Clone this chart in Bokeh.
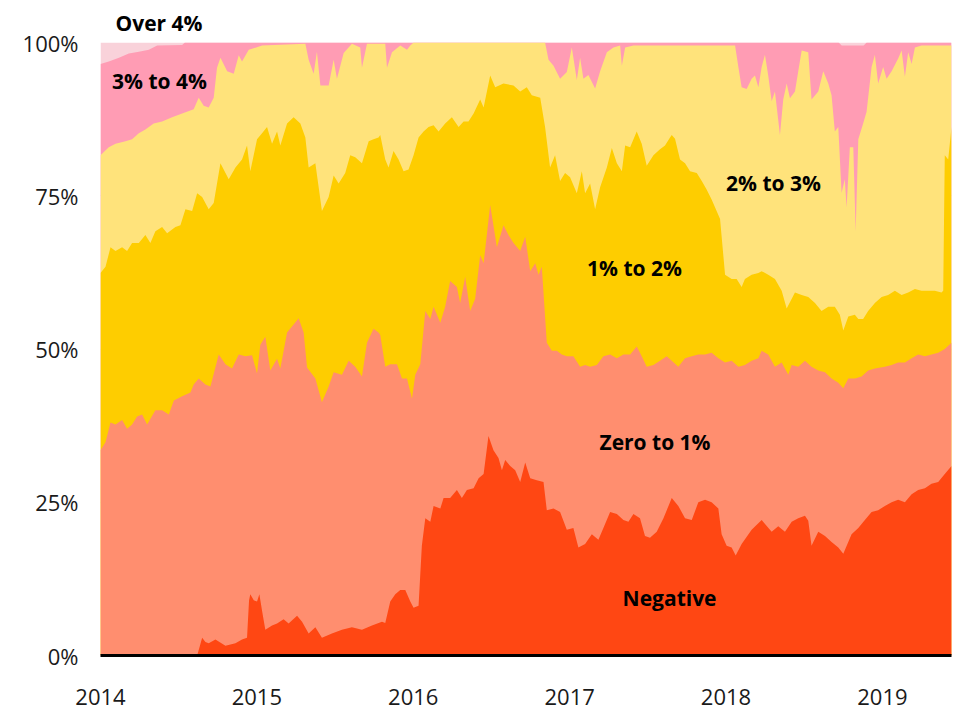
from bokeh.plotting import figure
from bokeh.models import Range1d, FixedTicker, Label
from bokeh.embed import file_html
from bokeh.resources import INLINE

# ---------------- data (years measured from the start of 2014, % of total) -------------
START_YEAR = 2014.0

series_names = ["Negative", "Zero to 1%", "1% to 2%", "2% to 3%", "3% to 4%", "Over 4%"]
year_ticks = [2014, 2015, 2016, 2017, 2018, 2019]
pct_ticks = [0, 25, 50, 75, 100]

# cumulative top of "Negative"
neg_t = [
    0.000, 0.618, 0.635, 0.650, 0.671, 0.692, 0.735, 0.799, 0.863, 0.905,
    0.937, 0.950, 0.958, 0.980, 1.001, 1.016, 1.035, 1.054, 1.097, 1.129,
    1.171, 1.203, 1.257, 1.289, 1.331, 1.374, 1.416, 1.480, 1.544, 1.608,
    1.672, 1.736, 1.800, 1.821, 1.853, 1.885, 1.917, 1.949, 1.981, 2.002,
    2.034, 2.055, 2.077, 2.109, 2.130, 2.173, 2.194, 2.236, 2.279, 2.311,
    2.343, 2.386, 2.418, 2.450, 2.481, 2.513, 2.545, 2.567, 2.588, 2.620,
    2.652, 2.684, 2.716, 2.748, 2.790, 2.833, 2.854, 2.897, 2.939, 2.982,
    3.024, 3.056, 3.099, 3.142, 3.184, 3.216, 3.259, 3.302, 3.344, 3.376,
    3.408, 3.450, 3.482, 3.514, 3.557, 3.600, 3.642, 3.653, 3.695, 3.738,
    3.781, 3.823, 3.866, 3.908, 3.951, 3.972, 4.004, 4.036, 4.062, 4.100,
    4.164, 4.228, 4.292, 4.334, 4.377, 4.420, 4.462, 4.505, 4.526, 4.547,
    4.590, 4.633, 4.675, 4.718, 4.750, 4.803, 4.846, 4.888, 4.931, 4.973,
    5.016, 5.059, 5.101, 5.144, 5.187, 5.229, 5.272, 5.314, 5.357, 5.399,
    5.442,
]
neg_pct = [
    0.0, 0.0, 1.5, 2.9, 2.2, 2.0, 2.6, 1.6, 2.0, 2.6,
    2.9, 9.0, 10.0, 9.0, 8.8, 10.0, 7.0, 4.2, 4.9, 5.2,
    5.9, 5.2, 6.5, 5.5, 3.6, 4.6, 2.9, 3.6, 4.2, 4.6,
    4.2, 4.9, 5.5, 5.3, 8.8, 10.0, 10.7, 10.7, 8.8, 7.8,
    8.1, 17.9, 22.4, 21.8, 24.4, 24.0, 25.7, 25.7, 27.0, 25.7,
    27.0, 27.3, 28.9, 29.6, 35.8, 33.5, 32.2, 30.2, 31.9, 30.9,
    30.2, 28.3, 31.5, 28.9, 28.6, 28.3, 23.7, 24.0, 23.4, 20.5,
    20.8, 17.6, 18.2, 19.8, 18.9, 20.8, 23.4, 23.1, 22.1, 21.8,
    23.1, 22.4, 19.5, 19.2, 20.2, 22.4, 25.0, 25.7, 24.4, 22.4,
    22.1, 25.0, 25.4, 25.0, 24.0, 19.8, 17.9, 17.6, 16.3, 18.2,
    20.5, 22.1, 20.2, 21.1, 20.2, 21.8, 22.4, 22.8, 22.0, 17.9,
    20.2, 19.5, 18.5, 17.6, 16.6, 19.8, 20.8, 22.1, 23.4, 23.7,
    24.4, 25.0, 25.4, 25.0, 26.3, 27.0, 27.3, 28.0, 28.3, 29.6,
    30.9,
]

# cumulative top of "Zero to 1%"
zero1_t = [
    0.000, 0.032, 0.064, 0.096, 0.138, 0.170, 0.202, 0.234, 0.266, 0.298,
    0.351, 0.394, 0.437, 0.469, 0.522, 0.575, 0.596, 0.628, 0.671, 0.703,
    0.756, 0.799, 0.841, 0.884, 0.927, 0.969, 1.001, 1.022, 1.054, 1.086,
    1.129, 1.150, 1.193, 1.235, 1.267, 1.299, 1.321, 1.374, 1.416, 1.459,
    1.491, 1.544, 1.587, 1.629, 1.672, 1.704, 1.746, 1.778, 1.789, 1.821,
    1.853, 1.896, 1.928, 1.960, 1.992, 2.013, 2.045, 2.077, 2.109, 2.130,
    2.173, 2.204, 2.236, 2.279, 2.300, 2.332, 2.364, 2.396, 2.428, 2.450,
    2.492, 2.535, 2.577, 2.609, 2.641, 2.684, 2.716, 2.748, 2.780, 2.801,
    2.822, 2.854, 2.886, 2.918, 2.950, 2.982, 3.024, 3.067, 3.099, 3.131,
    3.174, 3.216, 3.259, 3.302, 3.344, 3.387, 3.429, 3.461, 3.493, 3.536,
    3.578, 3.621, 3.653, 3.695, 3.738, 3.781, 3.823, 3.866, 3.908, 3.951,
    3.994, 4.036, 4.079, 4.121, 4.164, 4.207, 4.228, 4.270, 4.313, 4.356,
    4.398, 4.420, 4.462, 4.505, 4.547, 4.590, 4.633, 4.675, 4.718, 4.750,
    4.782, 4.824, 4.867, 4.909, 4.952, 5.016, 5.059, 5.101, 5.144, 5.187,
    5.229, 5.272, 5.314, 5.357, 5.399, 5.442,
]
zero1_pct = [
    33.5, 34.8, 38.0, 37.7, 38.4, 37.0, 37.7, 39.0, 39.3, 37.7,
    40.0, 40.0, 39.3, 41.6, 42.3, 42.9, 44.2, 45.2, 44.2, 43.9,
    49.1, 47.5, 46.8, 49.1, 48.8, 49.0, 46.0, 50.7, 52.0, 46.5,
    48.4, 46.8, 52.7, 54.0, 55.0, 52.7, 47.0, 45.2, 41.3, 43.9,
    46.2, 45.8, 48.1, 47.1, 45.5, 51.0, 53.3, 52.7, 52.3, 47.1,
    47.5, 47.5, 45.2, 45.2, 41.9, 45.8, 47.5, 56.2, 54.9, 56.9,
    54.3, 56.9, 61.1, 60.1, 57.5, 61.8, 56.2, 58.2, 65.3, 64.0,
    73.5, 66.6, 70.2, 68.6, 67.3, 66.0, 68.3, 62.7, 64.0, 62.1,
    63.4, 51.0, 49.7, 49.7, 49.1, 48.8, 48.8, 47.1, 47.4, 47.1,
    47.4, 48.8, 49.1, 48.5, 49.1, 49.1, 50.4, 48.8, 47.1, 47.4,
    48.1, 48.8, 48.1, 47.1, 48.5, 48.8, 49.1, 49.1, 49.4, 48.5,
    47.8, 48.1, 47.1, 47.4, 48.1, 48.5, 49.7, 49.1, 47.1, 47.8,
    45.8, 47.4, 47.1, 48.1, 47.1, 46.5, 46.2, 45.2, 44.5, 43.6,
    45.2, 45.2, 45.5, 46.5, 46.8, 47.1, 47.4, 47.8, 47.8, 48.5,
    49.1, 48.8, 49.1, 49.4, 50.0, 51.0,
]

# cumulative top of "1% to 2%"
one2_t = [
    0.000, 0.032, 0.064, 0.096, 0.138, 0.170, 0.202, 0.245, 0.287, 0.319,
    0.351, 0.394, 0.426, 0.479, 0.511, 0.543, 0.586, 0.618, 0.650, 0.692,
    0.724, 0.767, 0.820, 0.863, 0.905, 0.937, 0.958, 1.001, 1.033, 1.065,
    1.097, 1.129, 1.150, 1.193, 1.235, 1.278, 1.310, 1.331, 1.374, 1.416,
    1.459, 1.491, 1.523, 1.565, 1.597, 1.629, 1.672, 1.715, 1.746, 1.778,
    1.789, 1.821, 1.842, 1.874, 1.906, 1.938, 1.970, 2.002, 2.034, 2.066,
    2.098, 2.130, 2.162, 2.204, 2.247, 2.290, 2.322, 2.353, 2.386, 2.428,
    2.450, 2.492, 2.524, 2.577, 2.641, 2.684, 2.726, 2.758, 2.812, 2.843,
    2.875, 2.907, 2.939, 2.971, 3.003, 3.046, 3.078, 3.099, 3.131, 3.163,
    3.195, 3.238, 3.270, 3.302, 3.334, 3.355, 3.387, 3.429, 3.461, 3.493,
    3.536, 3.578, 3.610, 3.642, 3.653, 3.674, 3.706, 3.738, 3.770, 3.813,
    3.845, 3.876, 3.908, 3.940, 3.962, 3.994, 4.036, 4.068, 4.100, 4.121,
    4.164, 4.207, 4.228, 4.270, 4.313, 4.356, 4.388, 4.441, 4.484, 4.526,
    4.569, 4.611, 4.654, 4.696, 4.728, 4.750, 4.782, 4.824, 4.846, 4.877,
    4.909, 4.952, 4.995, 5.037, 5.080, 5.123, 5.165, 5.208, 5.250, 5.293,
    5.335, 5.378, 5.389, 5.399, 5.421, 5.442,
]
one2_pct = [
    62.4, 63.4, 66.6, 66.0, 66.6, 66.0, 67.3, 67.3, 68.6, 67.3,
    69.2, 69.9, 68.9, 69.9, 70.2, 72.8, 72.5, 75.4, 74.8, 72.8,
    73.8, 80.3, 77.7, 79.6, 80.9, 83.2, 79.0, 84.2, 85.2, 86.2,
    83.5, 85.5, 83.2, 86.8, 87.8, 86.8, 84.5, 79.6, 80.3, 72.5,
    74.8, 78.3, 77.0, 78.7, 81.6, 81.3, 80.3, 83.9, 84.2, 84.5,
    84.9, 80.9, 79.6, 82.3, 80.9, 79.0, 79.3, 81.6, 84.5, 85.5,
    86.2, 86.5, 85.5, 86.8, 87.8, 86.2, 87.1, 87.1, 88.4, 90.7,
    89.4, 94.6, 92.7, 93.3, 93.0, 92.0, 92.7, 91.4, 91.0, 86.2,
    79.6, 81.6, 77.4, 78.7, 78.0, 75.4, 79.0, 75.4, 77.0, 72.8,
    76.4, 79.6, 82.8, 80.3, 79.0, 83.2, 82.9, 85.5, 83.5, 79.9,
    81.6, 82.6, 83.2, 84.5, 84.9, 84.3, 80.9, 80.3, 79.0, 78.7,
    77.4, 76.0, 74.4, 72.5, 71.2, 62.1, 61.4, 61.4, 60.1, 61.4,
    62.1, 62.4, 62.7, 62.1, 61.4, 59.5, 56.6, 59.2, 58.8, 58.5,
    57.5, 56.2, 56.9, 56.9, 55.6, 53.0, 55.3, 55.6, 54.9, 54.9,
    56.2, 57.5, 58.5, 58.8, 59.5, 58.8, 59.2, 59.8, 59.5, 59.5,
    59.5, 59.2, 59.5, 81.6, 80.9, 86.2,
]

# cumulative top of "2% to 3%"
two3_t = [
    0.000, 0.053, 0.096, 0.160, 0.202, 0.245, 0.287, 0.340, 0.394, 0.458,
    0.522, 0.596, 0.628, 0.660, 0.692, 0.724, 0.745, 0.767, 0.810, 0.852,
    0.884, 0.905, 0.948, 1.033, 1.310, 1.331, 1.363, 1.384, 1.406, 1.459,
    1.491, 1.512, 1.555, 1.608, 1.661, 1.672, 1.704, 1.821, 1.832, 1.864,
    1.917, 1.960, 1.981, 2.002, 2.843, 2.865, 2.897, 2.939, 2.982, 3.014,
    3.046, 3.067, 3.088, 3.120, 3.163, 3.195, 3.238, 3.280, 3.323, 3.334,
    3.355, 3.408, 4.058, 4.079, 4.100, 4.132, 4.164, 4.185, 4.207, 4.228,
    4.249, 4.270, 4.292, 4.313, 4.345, 4.366, 4.388, 4.409, 4.441, 4.462,
    4.484, 4.526, 4.547, 4.590, 4.622, 4.654, 4.675, 4.696, 4.718, 4.739,
    4.760, 4.771, 4.792, 4.814, 4.829, 4.846, 4.877, 4.899, 4.931, 4.952,
    4.973, 5.005, 5.027, 5.059, 5.101, 5.123, 5.144, 5.165, 5.187, 5.208,
    5.250, 5.442,
]
two3_pct = [
    81.6, 82.9, 83.5, 83.9, 84.2, 85.2, 85.8, 86.8, 87.1, 87.8,
    88.4, 89.1, 91.0, 89.7, 89.4, 91.0, 95.9, 97.5, 95.3, 94.9,
    97.9, 96.9, 98.8, 99.5, 99.8, 97.2, 94.9, 98.5, 93.0, 93.0,
    97.2, 94.1, 98.3, 99.8, 99.2, 95.9, 99.8, 99.8, 95.9, 98.4,
    99.5, 98.8, 99.5, 100.0, 100.0, 97.2, 96.2, 94.1, 95.2, 99.2,
    93.9, 97.5, 94.1, 94.7, 92.5, 95.3, 98.4, 99.2, 99.5, 96.2,
    99.2, 99.5, 99.5, 96.0, 92.7, 92.4, 94.1, 94.6, 92.7, 96.0,
    98.0, 94.6, 90.4, 92.0, 84.9, 90.7, 93.3, 90.9, 92.0, 95.3,
    98.7, 98.4, 90.7, 92.0, 95.3, 93.3, 91.4, 85.5, 86.2, 75.5,
    77.7, 73.1, 82.9, 82.9, 69.2, 84.2, 86.8, 88.7, 96.0, 98.0,
    93.3, 96.0, 94.1, 95.3, 97.4, 98.7, 94.4, 98.4, 96.5, 99.2,
    99.5, 99.5,
]

# cumulative top of "3% to 4%"
three4_t = [0.000, 0.053, 0.118, 0.181, 0.245, 0.309, 0.362, 0.522, 0.540, 4.720,
            4.740, 4.880, 4.900, 5.442]
three4_pct = [96.5, 96.9, 97.5, 98.2, 98.5, 98.8, 99.5, 99.6, 100.0, 100.0,
              99.5, 99.5, 100.0, 100.0]

# cumulative top of "Over 4%" (the whole)
over4_t = [0.000, 5.442]
over4_pct = [100.0, 100.0]

colors = {
    "Negative": "#FF4713",
    "Zero to 1%": "#FF8E6F",
    "1% to 2%": "#FECD00",
    "2% to 3%": "#FFE37B",
    "3% to 4%": "#FF9CB4",
    "Over 4%": "#F9D2DA",
}

# ---------------- figure ----------------
p = figure(
    width=952, height=711,
    x_range=Range1d(START_YEAR, START_YEAR + 5.442),
    y_range=Range1d(0, 100),
    output_backend="svg", toolbar_location=None,
    min_border_left=100, min_border_right=1, min_border_top=42, min_border_bottom=56,
    title="Over 4%",
)
p.outline_line_color = None
p.background_fill_color = "white"
p.border_fill_color = "white"

# the "Over 4%" band label sits above the frame: use the title slot for it
p.title.align = "left"
p.title.offset = 15
p.title.standoff = 11
p.title.text_font = "Open Sans"
p.title.text_font_style = "bold"
p.title.text_font_size = "21px"
p.title.text_color = "black"

# layered areas: each band is drawn from 0 up to its cumulative top,
# from the outermost band inward, so that every band shows between its neighbours
layers = [
    ("Over 4%", over4_t, over4_pct),
    ("3% to 4%", three4_t, three4_pct),
    ("2% to 3%", two3_t, two3_pct),
    ("1% to 2%", one2_t, one2_pct),
    ("Zero to 1%", zero1_t, zero1_pct),
    ("Negative", neg_t, neg_pct),
]
for name, t, pct in layers:
    n = min(len(t), len(pct))
    xs = [START_YEAR + v for v in t[:n]]
    p.varea(x=xs, y1=[0.0] * n, y2=pct[:n], fill_color=colors[name], fill_alpha=1.0)

# axes
p.xgrid.visible = False
p.ygrid.grid_line_color = "#dcdcdc"
p.ygrid.grid_line_width = 1

p.yaxis.ticker = FixedTicker(ticks=pct_ticks)
p.yaxis.major_label_overrides = {t: f"{t}%" for t in pct_ticks}
p.yaxis.axis_line_color = None
p.yaxis.major_tick_line_color = None
p.yaxis.minor_tick_line_color = None
p.yaxis.major_label_standoff = 16
p.yaxis.major_label_text_font = "Open Sans"
p.yaxis.major_label_text_font_size = "22px"
p.yaxis.major_label_text_color = "#1a1a1a"

p.xaxis.ticker = FixedTicker(ticks=year_ticks)
p.xaxis.major_label_overrides = {t: str(t) for t in year_ticks}
p.xaxis.axis_line_color = "black"
p.xaxis.axis_line_width = 3
p.xaxis.major_tick_line_color = None
p.xaxis.minor_tick_line_color = None
p.xaxis.major_label_standoff = 27
p.xaxis.major_label_text_font = "Open Sans"
p.xaxis.major_label_text_font_size = "22px"
p.xaxis.major_label_text_color = "#1a1a1a"

# band labels inside the frame
band_labels = [
    ("3% to 4%", 0.377, 93.7),
    ("2% to 3%", 4.304, 77.1),
    ("1% to 2%", 3.415, 63.2),
    ("Zero to 1%", 3.546, 34.8),
    ("Negative", 3.639, 9.3),
]
for txt, tx, ty in band_labels:
    p.add_layout(Label(
        x=START_YEAR + tx, y=ty, text=txt,
        text_align="center", text_baseline="middle",
        text_font="Open Sans", text_font_style="bold",
        text_font_size="21px", text_color="black",
    ))

open("out.html", "w").write(file_html(p, INLINE))
